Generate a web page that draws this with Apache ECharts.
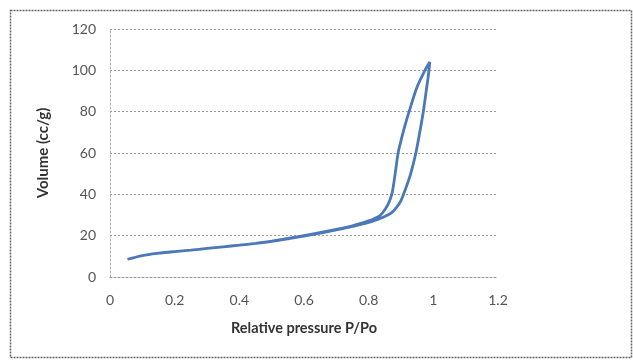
<!DOCTYPE html>
<html>
<head>
	<meta charset="utf-8">
	<title>Isotherm</title>
	<script src="https://cdn.jsdelivr.net/npm/echarts@6/dist/echarts.min.js"></script>
	<style>
		html, body { margin: 0; padding: 0; background: #fff; }
	</style>
</head>
<body>
	<div id="container" style="width: 633px;height:360px;"></div>

	<script type="text/javascript">
	// adsorption branch
	var adsP = [0.054, 0.1, 0.15, 0.2, 0.25, 0.3, 0.35, 0.4, 0.45, 0.5, 0.55, 0.6, 0.65, 0.7, 0.75, 0.8, 0.83, 0.85, 0.87, 0.885, 0.9, 0.915, 0.93, 0.946, 0.958, 0.969, 0.978, 0.985, 0.989];
	var adsV = [8.6, 10.4, 11.5, 12.3, 13.0, 13.8, 14.6, 15.4, 16.3, 17.3, 18.5, 19.8, 21.2, 22.8, 24.5, 26.4, 28.0, 29.3, 31.0, 33.5, 37.0, 43.0, 50.0, 60.0, 70.0, 80.0, 90.0, 98.0, 104.0];
	// desorption branch, back down from the top
	var desP = [0.974, 0.95, 0.925, 0.91, 0.9, 0.891, 0.882, 0.873, 0.864, 0.852, 0.837, 0.817, 0.8, 0.75, 0.7, 0.6, 0.5];
	var desV = [100.0, 92.0, 80.0, 72.0, 66.0, 60.0, 50.0, 41.0, 36.5, 33.0, 30.0, 28.2, 27.2, 24.8, 23.0, 20.0, 17.4];

	var xTicks = [0, 0.2, 0.4, 0.6, 0.8, 1, 1.2];
	var yTicks = [0, 20, 40, 60, 80, 100, 120];

	var loop = [];
	for (var i = 0; i < adsP.length; i++) loop.push([adsP[i], adsV[i]]);
	for (var j = 0; j < desP.length; j++) loop.push([desP[j], desV[j]]);

	var font = 'Lato, "Open Sans", sans-serif';
	var gridLine = { show: true, lineStyle: { color: '#9a9a9a', type: [2, 2], width: 1 } };

	var myChart = echarts.init(document.getElementById('container'));
	myChart.setOption({
		animation: false,
		backgroundColor: '#fff',
		graphic: [{
			type: 'rect',
			shape: { x: 10.5, y: 10.5, width: 621, height: 347 },
			style: { fill: 'none', stroke: '#666', lineWidth: 1.5, lineDash: [2, 1] },
			silent: true
		}],
		grid: { left: 110, right: 135, top: 29, bottom: 83 },
		xAxis: {
			type: 'value',
			min: xTicks[0],
			max: xTicks[xTicks.length - 1],
			interval: 0.2,
			name: 'Relative pressure P/Po',
			nameLocation: 'middle',
			nameGap: 44,
			nameTextStyle: { fontFamily: font, fontWeight: 'bold', fontSize: 14.5, color: '#333' },
			axisLine: { show: true, lineStyle: { color: '#9a9a9a', type: [2, 2] } },
			axisTick: { show: false },
			axisLabel: { fontFamily: font, fontSize: 14, color: '#555', margin: 16,
				formatter: function (v) { return String(+v.toFixed(1)); } },
			splitLine: { show: false }
		},
		yAxis: {
			type: 'value',
			min: yTicks[0],
			max: yTicks[yTicks.length - 1],
			interval: 20,
			name: 'Volume (cc/g)',
			nameLocation: 'middle',
			nameGap: 59,
			nameTextStyle: { fontFamily: font, fontWeight: 'bold', fontSize: 15, color: '#333' },
			axisLine: { show: true, lineStyle: { color: '#b0b0b0', type: [2, 2] } },
			axisTick: { show: false },
			axisLabel: { fontFamily: font, fontSize: 14, color: '#555', margin: 14 },
			splitLine: gridLine
		},
		series: [{
			type: 'line',
			data: loop,
			showSymbol: false,
			smooth: 0.3,
			lineStyle: { color: '#4a78b8', width: 2.8 },
			z: 3
		}]
	});
	</script>
</body>
</html>
